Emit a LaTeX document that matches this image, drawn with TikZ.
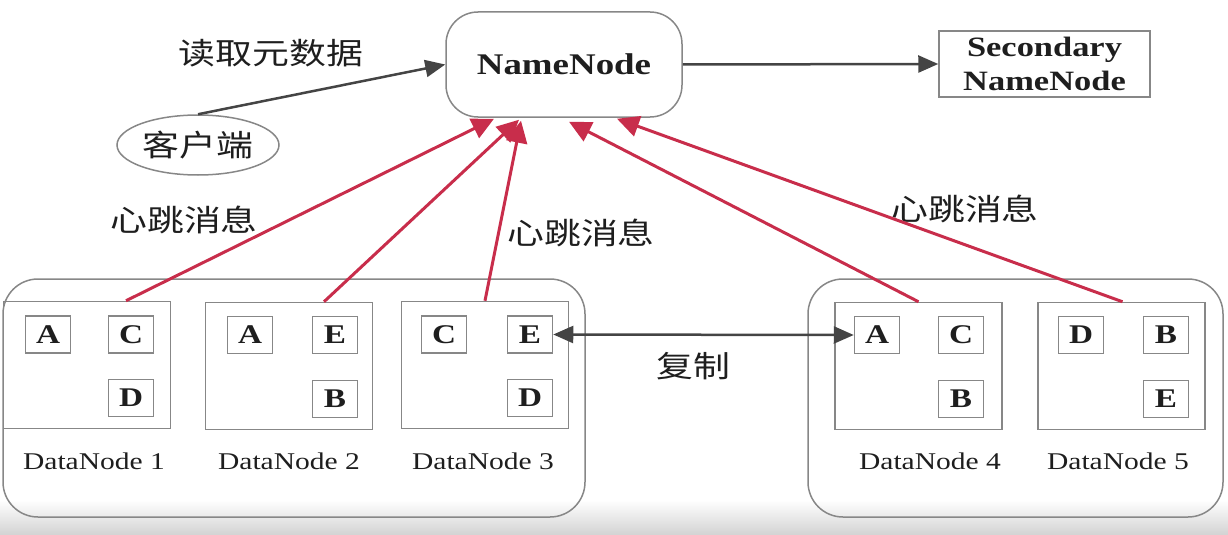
\documentclass[tikz,border=0pt]{standalone}
\usepackage{fontspec}
\setmainfont{Liberation Serif}[FakeStretch=1.23]
\newfontfamily\cjk{Noto Sans CJK SC}[FakeStretch=1.23]
\usetikzlibrary{shapes.geometric,arrows.meta,calc}
\definecolor{hbred}{RGB}{200,45,75}
\definecolor{boxgray}{RGB}{135,135,135}
\definecolor{arrgray}{RGB}{68,68,68}
\definecolor{txt}{RGB}{30,30,30}
\tikzset{
  blk/.style={draw=boxgray, line width=1.5pt, minimum width=45pt, minimum height=37pt, inner sep=0pt, text=txt, font=\fontsize{27}{27}\selectfont\bfseries},
  dnbox/.style={draw=boxgray, line width=1.5pt, minimum width=167pt, minimum height=127pt, inner sep=0pt},
  cluster/.style={draw=boxgray, line width=1.5pt, rounded corners=35pt, minimum height=238pt, inner sep=0pt},
  dnlabel/.style={text=txt, font=\fontsize{24}{24}\selectfont},
  cn/.style={text=txt, font=\cjk\fontsize{30}{30}\selectfont},
  hb/.style={draw=hbred, line width=3pt, -{Triangle[length=22pt,width=21pt]}},
  arr/.style={draw=arrgray, line width=2.5pt, -{Triangle[length=20pt,width=17pt]}},
}
\begin{document}
\begin{tikzpicture}[x=1pt,y=-1pt]
\useasboundingbox (0,0) rectangle (1228,535);
\shade[top color=white, bottom color=gray!35] (0,500) rectangle (1228,535);

% clusters
\node[cluster, minimum width=582pt] (g1) at (294,398) {};
\node[cluster, minimum width=415pt] (g2) at (1015.5,398) {};

% top nodes
\node[draw=boxgray, line width=1.5pt, rounded corners=32pt, minimum width=236pt, minimum height=105pt, text=txt, font=\fontsize{30}{30}\selectfont\bfseries] (nn) at (564,64.5) {NameNode};
\node[draw=boxgray, line width=1.5pt, minimum width=211pt, minimum height=66pt, inner sep=0pt, align=center, text=txt, font=\fontsize{28}{34}\selectfont\bfseries] (snn) at (1044.5,64) {Secondary\\NameNode};
\node[draw=boxgray, line width=1.5pt, ellipse, minimum width=162pt, minimum height=60pt, inner sep=0pt, cn] (client) at (198,145) {客户端};

% datanode boxes
\node[dnbox] (dn1) at (87,365) {};
\node[dnbox] (dn2) at (289,366) {};
\node[dnbox] (dn3) at (485,365) {};
\node[dnbox] (dn4) at (918.5,366) {};
\node[dnbox] (dn5) at (1121.5,366) {};

% blocks
\node[blk] (b1a) at (48,334.5) {A};
\node[blk] (b1c) at (131,334.5) {C};
\node[blk] (b1d) at (131,398) {D};
\node[blk] (b2a) at (250,335) {A};
\node[blk] (b2e) at (335,335) {E};
\node[blk] (b2b) at (335,399) {B};
\node[blk] (b3c) at (444,334.5) {C};
\node[blk] (b3e) at (530,334.5) {E};
\node[blk] (b3d) at (530,398) {D};
\node[blk] (b4a) at (877,335) {A};
\node[blk] (b4c) at (961,335) {C};
\node[blk] (b4b) at (961,399) {B};
\node[blk] (b5d) at (1081,335) {D};
\node[blk] (b5b) at (1166,335) {B};
\node[blk] (b5e) at (1166,399) {E};

% datanode labels
\node[dnlabel] (l1) at (94,461) {DataNode 1};
\node[dnlabel] (l2) at (289,461) {DataNode 2};
\node[dnlabel] (l3) at (483,461) {DataNode 3};
\node[dnlabel] (l4) at (930,461) {DataNode 4};
\node[dnlabel] (l5) at (1118,461) {DataNode 5};

% texts
\node[cn] (t1) at (271,53) {读取元数据};
\node[cn] (t2) at (184,220) {心跳消息};
\node[cn] (t3) at (581,233) {心跳消息};
\node[cn] (t4) at (965,209) {心跳消息};
\node[cn] (t5) at (693,366) {复制};

% connectors
\draw[arr] (client.north) -- (nn.west);
\draw[arr] (nn.east) -- (snn.west);
\draw[draw=arrgray, line width=2.5pt, {Triangle[length=20pt,width=17pt]}-{Triangle[length=20pt,width=17pt]}] (b3e.east) -- (b4a.west);

\draw[hb] ([xshift=39pt]dn1.north) -- ([xshift=-70pt,yshift=-1pt]nn.south);
\draw[hb] ([xshift=35pt]dn2.north) -- ([xshift=-45pt,yshift=-2pt]nn.south);
\draw[hb] (dn3.north) -- ([xshift=-43pt,yshift=-3pt]nn.south);
\draw[hb] (dn4.north) -- ([xshift=5pt,yshift=-4pt]nn.south);
\draw[hb] ([xshift=1pt]dn5.north) -- ([xshift=53pt,yshift=-1pt]nn.south);
\end{tikzpicture}
\end{document}
